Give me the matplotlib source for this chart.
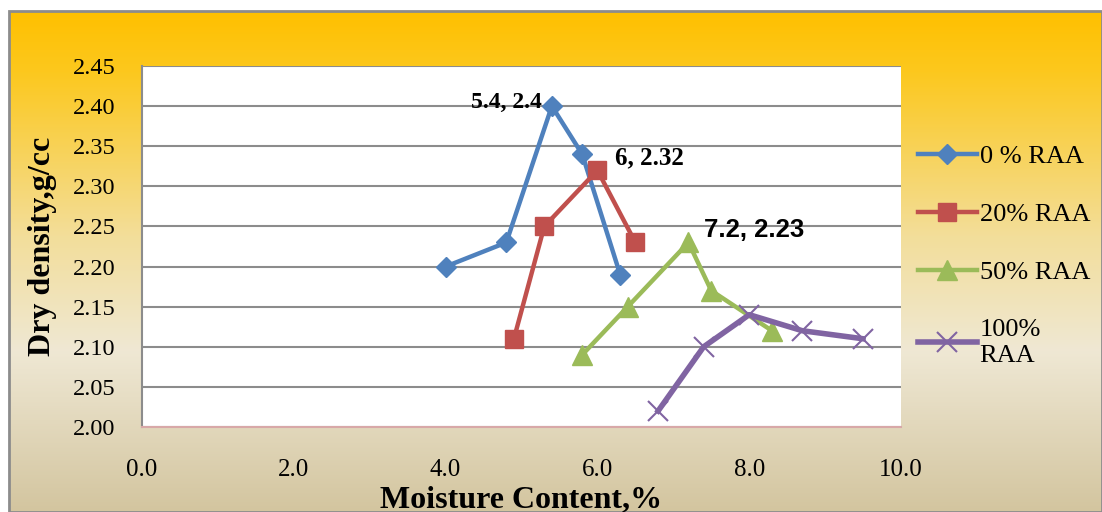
import numpy as np
import matplotlib.pyplot as plt
from matplotlib.colors import LinearSegmentedColormap
from matplotlib.patches import Rectangle

# moisture content (%) and dry density (g/cc) for each RAA mix
mc_0 = [4.0, 4.8, 5.4, 5.8, 6.3]
dd_0 = [2.20, 2.23, 2.40, 2.34, 2.19]
mc_20 = [4.9, 5.3, 6.0, 6.5]
dd_20 = [2.11, 2.25, 2.32, 2.23]
mc_50 = [5.8, 6.4, 7.2, 7.5, 8.3]
dd_50 = [2.09, 2.15, 2.23, 2.17, 2.12]
mc_100 = [6.8, 7.4, 8.0, 8.7, 9.5]
dd_100 = [2.02, 2.10, 2.14, 2.12, 2.11]

x_ticks = [0.0, 2.0, 4.0, 6.0, 8.0, 10.0]
y_ticks = [2.00, 2.05, 2.10, 2.15, 2.20, 2.25, 2.30, 2.35, 2.40, 2.45]

W, H = 1102, 512
fig = plt.figure(figsize=(W / 100, H / 100), dpi=100)
fig.patch.set_facecolor('white')

# chart area gradient: orange on top -> cream -> tan at the bottom
bg = fig.add_axes([9 / W, 0, 1 - 9 / W, 1 - 11 / H], zorder=0)
cmap = LinearSegmentedColormap.from_list(
    'daybreak', [(0, '#FFC000'), (0.12, '#FCC81E'), (0.45, '#F3DE9A'),
                 (0.68, '#EFE8D4'), (1.0, '#D3C59F')])
grad = np.linspace(0, 1, 256).reshape(-1, 1)
bg.imshow(grad, aspect='auto', cmap=cmap, extent=[0, 1, 0, 1])
bg.add_patch(Rectangle((0, 0), 1, 1, transform=bg.transAxes, fill=False,
                       edgecolor='#8C8C8C', linewidth=2, clip_on=False))
bg.set_axis_off()

ax = fig.add_axes([142 / W, 1 - 427 / H, (901 - 142) / W, (427 - 66) / H], zorder=1)
ax.set_facecolor('white')

lw = 3.2
ax.plot(mc_0, dd_0, color='#4F81BD', lw=lw, marker='D', ms=10.5,
        label='0 % RAA', zorder=3)
ax.plot(mc_20, dd_20, color='#C0504D', lw=lw, marker='s', ms=13.5,
        label='20% RAA', zorder=3)
ax.plot(mc_50, dd_50, color='#9BBB59', lw=lw, marker='^', ms=14,
        label='50% RAA', zorder=3)
ax.plot(mc_100, dd_100, color='#8064A2', lw=lw + 0.8, marker='x', ms=15,
        mew=1.5, label='100%\nRAA', zorder=3)

ax.set_xlim(0, 10)
ax.set_ylim(2.00, 2.45)
serif = 'Liberation Serif'
ax.set_xticks(x_ticks)
ax.set_xticklabels([f'{v:.1f}' for v in x_ticks], fontsize=18, fontfamily=serif)
ax.set_yticks(y_ticks)
ax.set_yticklabels([f'{v:.2f}' for v in y_ticks], fontsize=17.5, fontfamily=serif)
ax.tick_params(axis='x', length=0, pad=23)
ax.tick_params(axis='y', length=0, pad=19)
ax.grid(axis='y', color='#8C8C8C', lw=1.5)
ax.set_axisbelow(True)
for s in ['top', 'right']:
    ax.spines[s].set_visible(False)
ax.spines['left'].set_color('#8C8C8C')
ax.spines['left'].set_linewidth(1.5)
ax.spines['bottom'].set_color('#D8A8A8')
ax.spines['bottom'].set_linewidth(1.5)

# peak labels
ax.annotate('5.4, 2.4', (mc_0[2], dd_0[2]), xytext=(-7, -5), textcoords='offset points',
            ha='right', va='bottom', fontsize=17, fontweight='bold',
            fontfamily=serif)
ax.annotate('6, 2.32', (mc_20[2], dd_20[2]), xytext=(13, 1), textcoords='offset points',
            ha='left', va='bottom', fontsize=18, fontweight='bold',
            fontfamily=serif)
ax.annotate('7.2, 2.23', (mc_50[2], dd_50[2]), xytext=(11, 0), textcoords='offset points',
            ha='left', va='bottom', fontsize=18.5, fontweight='bold',
            fontfamily='Liberation Sans')

ax.set_xlabel('Moisture Content,%', fontsize=23, fontweight='bold',
              fontfamily=serif, labelpad=3)
ax.set_ylabel('Dry density,g/cc', fontsize=23, fontweight='bold',
              fontfamily=serif, labelpad=11)

leg = ax.legend(loc='upper left', bbox_to_anchor=(1.022, 0.783), frameon=False,
                prop={'family': serif, 'size': 19},
                handlelength=2.25, handletextpad=0.1, labelspacing=1.32,
                borderaxespad=0, borderpad=0)

fig.savefig('out.png', dpi=100)
